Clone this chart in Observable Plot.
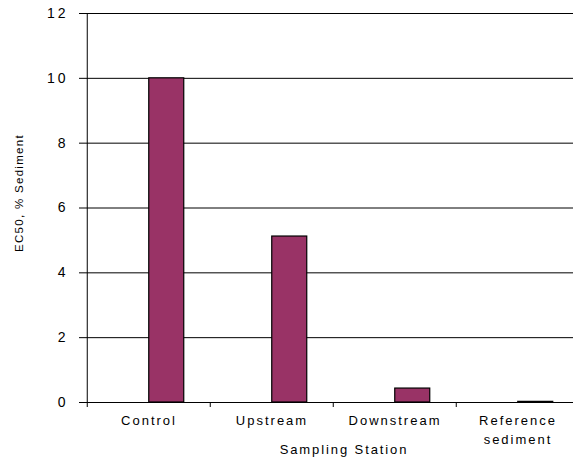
<!DOCTYPE html>
<html>
<head>
<meta charset="utf-8">
<script src="https://cdn.jsdelivr.net/npm/d3@7"></script>
<script src="https://cdn.jsdelivr.net/npm/@observablehq/plot@0.6"></script>
<style>
  html, body { margin: 0; padding: 0; background: #fff; overflow: hidden; }
  #chart svg { display: block; }
</style>
</head>
<body>
<div id="chart"></div>
<script>
const categories = ["Control", "Upstream", "Downstream", "Reference sediment"];
const ec50 = [10, 5.12, 0.43, 0.02];
const yTicks = [0, 2, 4, 6, 8, 10, 12];
const tickLabels = ["Control", "Upstream", "Downstream", "Reference\nsediment"];

const data = categories.map((c, i) => ({station: c, value: ec50[i]}));

const W = 573, H = 462;
const mL = 86, mR = 0, mT = 13, mB = 60;
const xRight = 580;
const bw = (xRight - mL) / categories.length;
const barW = 35.5;

const chart = Plot.plot({
  width: W,
  height: H,
  marginLeft: mL,
  marginRight: mR,
  marginTop: mT,
  marginBottom: mB,
  style: {fontFamily: "'Liberation Sans', Arial, sans-serif", background: "#fff", color: "#000", overflow: "hidden"},
  x: {type: "band", domain: categories, padding: 0, label: null, range: [mL, xRight]},
  y: {domain: [0, 12], label: null},
  marks: [
    Plot.ruleY(yTicks, {stroke: "#000", strokeWidth: 1}),
    Plot.barY(data, {
      x: "station", y: "value",
      fill: "#993366", stroke: "#000", strokeWidth: 1.2,
      insetLeft: bw / 2, insetRight: bw / 2 - barW
    }),
    Plot.ruleX([categories[0]], {y1: 0, y2: 12, dx: -bw / 2, stroke: "#000"}),
    Plot.axisY({ticks: yTicks, tickSize: 7, tickPadding: 11, fontSize: 14, stroke: "#000", tickFormat: d => d}),
    Plot.axisX({tickSize: 5, dx: -bw / 2, tickFormat: null, stroke: "#000"}),
    Plot.axisX({tickSize: 0, tickPadding: 9, fontSize: 13, tickFormat: (d) => tickLabels[categories.indexOf(d)], lineHeight: 1.46}),
    Plot.text(["Sampling Station"], {frameAnchor: "bottom", dx: 14, dy: 51, fontSize: 13, fill: "#000"}),
    Plot.text(["EC50, % Sediment"], {frameAnchor: "left", textAnchor: "middle", rotate: -90, fontSize: 11.5, fill: "#000"})
  ]
});
const svg = d3.select(chart);
svg.selectAll('g[aria-label="y-axis tick label"] text').style("letter-spacing", "3px");
svg.selectAll('g[aria-label="x-axis tick label"] text').style("letter-spacing", "2px");
const textGroups = svg.selectAll('g[aria-label="text"]').nodes();
if (textGroups[0]) d3.select(textGroups[0]).selectAll("text").style("letter-spacing", "1.9px");
if (textGroups[1]) {
  d3.select(textGroups[1]).attr("transform", null).selectAll("text")
    .style("letter-spacing", "1.3px")
    .attr("text-anchor", "middle")
    .attr("x", null).attr("y", null)
    .attr("transform", "translate(23,193) rotate(-90)");
}
document.getElementById("chart").appendChild(chart);
</script>
</body>
</html>
